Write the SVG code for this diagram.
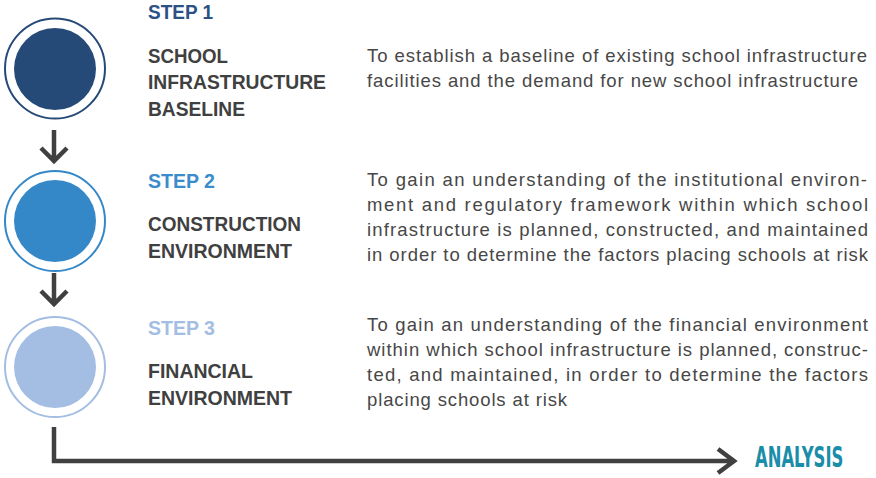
<svg xmlns="http://www.w3.org/2000/svg" width="876" height="478" viewBox="0 0 876 478">
<style>
.head{font-family:"Liberation Sans",Arial,sans-serif;font-weight:bold;font-size:20px;fill:#404040}
.step{font-family:"Liberation Sans",Arial,sans-serif;font-weight:bold;font-size:20px}
.desc{font-family:"Liberation Sans",Arial,sans-serif;font-size:18.5px;fill:#474747}
.ring{fill:#fff;stroke-width:2}
.conn{fill:none;stroke:#404040;stroke-width:4.5;stroke-linejoin:miter}
</style>
<rect width="876" height="478" fill="#fff"/>
<g id="connectors">
<path class="conn" d="M54 130V160M41 148L54 161L67 148"/>
<path class="conn" d="M54 273V303M41 291L54 304L67 291"/>
<path class="conn" d="M54 427V461H733M718 449L734 461L718 473"/>
</g>
<g id="step1">
<circle class="ring" cx="55" cy="68.5" r="50" stroke="#264a78"/>
<circle cx="55" cy="69" r="41" fill="#264a78"/>
<text class="step" x="148" y="19.3" fill="#2b5185" textLength="65" lengthAdjust="spacingAndGlyphs">STEP 1</text>
<text class="head" x="148" y="62.7" textLength="80" lengthAdjust="spacingAndGlyphs">SCHOOL</text>
<text class="head" x="148" y="89.3" textLength="178" lengthAdjust="spacingAndGlyphs">INFRASTRUCTURE</text>
<text class="head" x="148" y="116" textLength="97" lengthAdjust="spacingAndGlyphs">BASELINE</text>
<text class="desc" x="367" y="61.7" textLength="500" lengthAdjust="spacing">To establish a baseline of existing school infrastructure</text>
<text class="desc" x="367" y="86.5" textLength="491" lengthAdjust="spacing">facilities and the demand for new school infrastructure</text>
</g>
<g id="step2">
<circle class="ring" cx="55" cy="221" r="50" stroke="#3588c8"/>
<circle cx="55" cy="221" r="41" fill="#3588c8"/>
<text class="step" x="148" y="188.3" fill="#3a8ccc" textLength="67" lengthAdjust="spacingAndGlyphs">STEP 2</text>
<text class="head" x="148" y="230.7" textLength="153" lengthAdjust="spacingAndGlyphs">CONSTRUCTION</text>
<text class="head" x="148" y="258.3" textLength="144" lengthAdjust="spacingAndGlyphs">ENVIRONMENT</text>
<text class="desc" x="367" y="185.7" textLength="500" lengthAdjust="spacing">To gain an understanding of the institutional environ-</text>
<text class="desc" x="367" y="210.5" textLength="501" lengthAdjust="spacing">ment and regulatory framework within which school</text>
<text class="desc" x="367" y="235.5" textLength="501" lengthAdjust="spacing">infrastructure is planned, constructed, and maintained</text>
<text class="desc" x="367" y="260.5" textLength="501" lengthAdjust="spacing">in order to determine the factors placing schools at risk</text>
</g>
<g id="step3">
<circle class="ring" cx="55" cy="367" r="50" stroke="#a3bde3"/>
<circle cx="55" cy="367" r="41" fill="#a3bde3"/>
<text class="step" x="148" y="335" fill="#a3bde3" textLength="67" lengthAdjust="spacingAndGlyphs">STEP 3</text>
<text class="head" x="148" y="378.3" textLength="105" lengthAdjust="spacingAndGlyphs">FINANCIAL</text>
<text class="head" x="148" y="405" textLength="144" lengthAdjust="spacingAndGlyphs">ENVIRONMENT</text>
<text class="desc" x="367" y="330.7" textLength="501" lengthAdjust="spacing">To gain an understanding of the financial environment</text>
<text class="desc" x="367" y="355.5" textLength="501" lengthAdjust="spacing">within which school infrastructure is planned, construc-</text>
<text class="desc" x="367" y="380.5" textLength="501" lengthAdjust="spacing">ted, and maintained, in order to determine the factors</text>
<text class="desc" x="367" y="405.5" textLength="200" lengthAdjust="spacing">placing schools at risk</text>
</g>
<g id="analysis">
<text transform="translate(755 467.3) scale(0.64 1)" font-family="'DejaVu Sans Condensed','DejaVu Sans',sans-serif" font-weight="bold" font-size="28.5" fill="#1a8ea8">ANALYSIS</text>
</g>
</svg>
